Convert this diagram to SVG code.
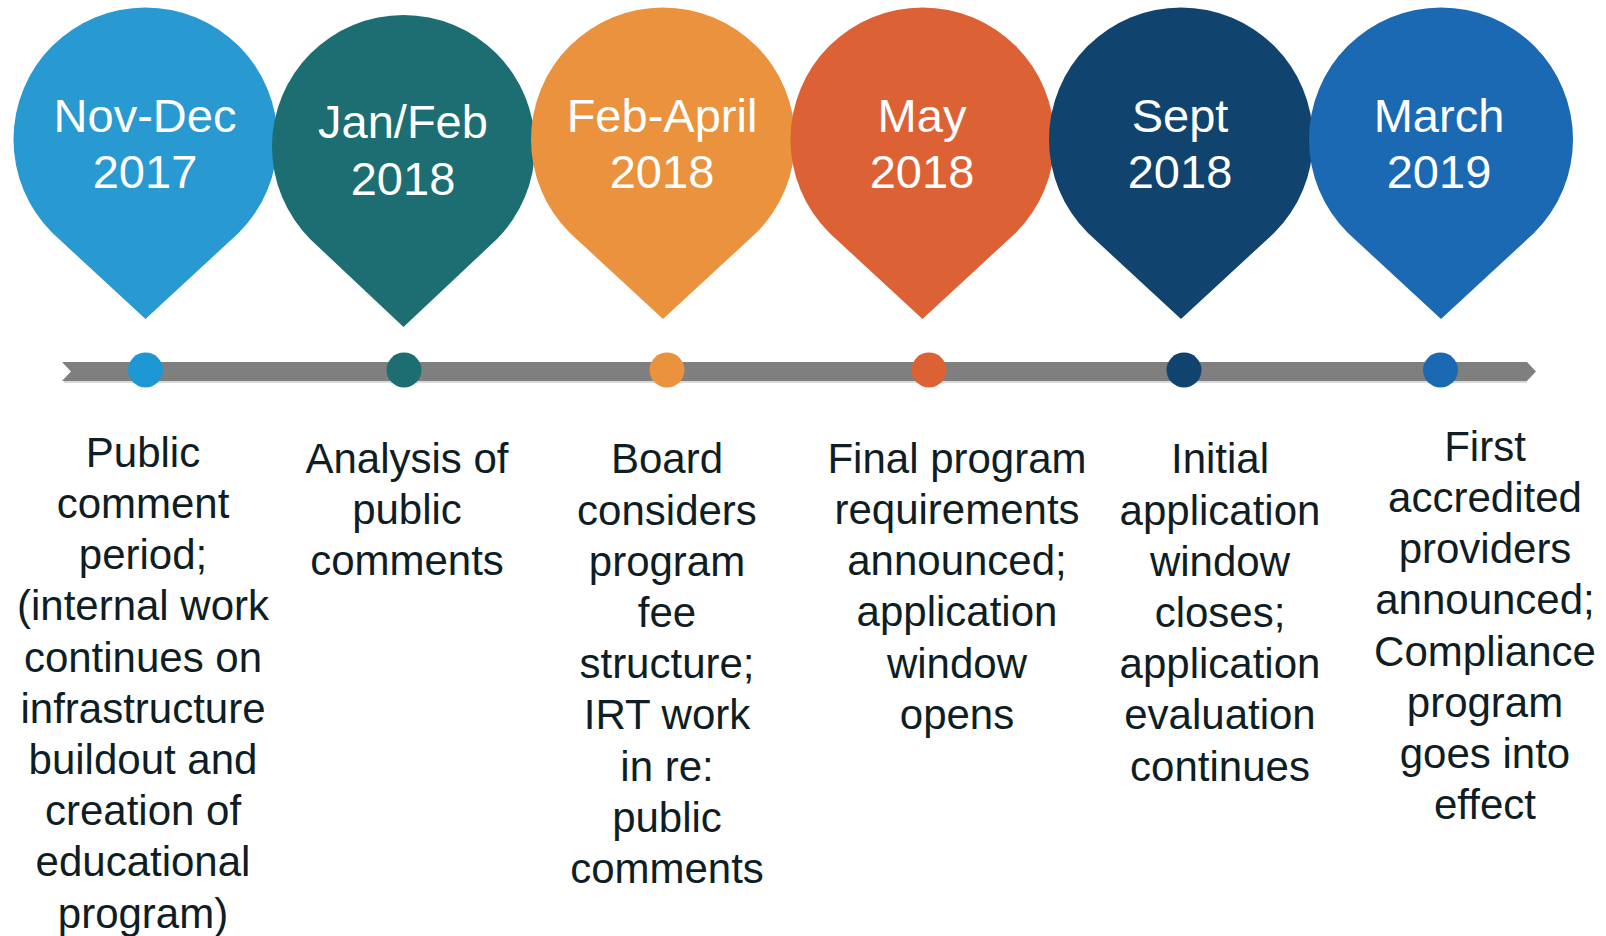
<svg xmlns="http://www.w3.org/2000/svg" width="1606" height="936" viewBox="0 0 1606 936">
<style>
.pt{font-family:"Liberation Sans",Arial,sans-serif;font-size:47px;fill:#ffffff;text-anchor:middle}
.dt{font-family:"Liberation Sans",Arial,sans-serif;font-size:42px;fill:#0f1d24;text-anchor:middle}
</style>
<rect width="1606" height="936" fill="#ffffff"/>
<g id="connectors">
<rect x="64" y="381" width="1463" height="2" fill="#d9d9d9"/>
<polygon points="62,362 1527,362 1536,371.5 1527,381 62,381 71,371.5" fill="#7f7f7f"/>
</g>
<g id="m1">
<path d="M145.5,319 L52.2,232.8 A132,132 0 1 1 238.8,232.8 Z" fill="#2999d1"/>
<text class="pt" x="145" y="131.7">Nov-Dec</text>
<text class="pt" x="145" y="187.5">2017</text>
<circle cx="145.5" cy="370" r="17.5" fill="#1e98d4"/>
<text class="dt" x="143" y="466.7"><tspan x="143">Public</tspan><tspan x="143" dy="51.2">comment</tspan><tspan x="143" dy="51.2">period;</tspan><tspan x="143" dy="51.2">(internal work</tspan><tspan x="143" dy="51.2">continues on</tspan><tspan x="143" dy="51.2">infrastructure</tspan><tspan x="143" dy="51.2">buildout and</tspan><tspan x="143" dy="51.2">creation of</tspan><tspan x="143" dy="51.2">educational</tspan><tspan x="143" dy="51.2">program)</tspan></text>
</g>
<g id="m2">
<path d="M403.5,327 L310.5,239.5 A131.5,131.5 0 1 1 496.5,239.5 Z" fill="#1d6e72"/>
<text class="pt" x="403" y="138.3">Jan/Feb</text>
<text class="pt" x="403" y="195">2018</text>
<circle cx="404" cy="370" r="17.5" fill="#1d6e72"/>
<text class="dt" x="407" y="472.7"><tspan x="407">Analysis of</tspan><tspan x="407" dy="51.2">public</tspan><tspan x="407" dy="51.2">comments</tspan></text>
</g>
<g id="m3">
<path d="M663,319 L569.7,232.8 A132,132 0 1 1 756.3,232.8 Z" fill="#ea923d"/>
<text class="pt" x="662" y="132">Feb-April</text>
<text class="pt" x="662" y="188">2018</text>
<circle cx="667" cy="370" r="17.5" fill="#ea923d"/>
<text class="dt" x="667" y="473.3"><tspan x="667">Board</tspan><tspan x="667" dy="51.2">considers</tspan><tspan x="667" dy="51.2">program</tspan><tspan x="667" dy="51.2">fee</tspan><tspan x="667" dy="51.2">structure;</tspan><tspan x="667" dy="51.2">IRT work</tspan><tspan x="667" dy="51.2">in re:</tspan><tspan x="667" dy="51.2">public</tspan><tspan x="667" dy="51.2">comments</tspan></text>
</g>
<g id="m4">
<path d="M922.5,319 L829.2,232.8 A132,132 0 1 1 1015.8,232.8 Z" fill="#dc6236"/>
<text class="pt" x="922" y="132">May</text>
<text class="pt" x="922" y="188">2018</text>
<circle cx="929" cy="370" r="17.5" fill="#dc6236"/>
<text class="dt" x="957" y="472.7"><tspan x="957">Final program</tspan><tspan x="957" dy="51.2">requirements</tspan><tspan x="957" dy="51.2">announced;</tspan><tspan x="957" dy="51.2">application</tspan><tspan x="957" dy="51.2">window</tspan><tspan x="957" dy="51.2">opens</tspan></text>
</g>
<g id="m5">
<path d="M1181,319 L1087.7,232.8 A132,132 0 1 1 1274.3,232.8 Z" fill="#10436e"/>
<text class="pt" x="1180" y="131.7">Sept</text>
<text class="pt" x="1180" y="188">2018</text>
<circle cx="1184" cy="370" r="17.5" fill="#10436e"/>
<text class="dt" x="1220" y="473.3"><tspan x="1220">Initial</tspan><tspan x="1220" dy="51.2">application</tspan><tspan x="1220" dy="51.2">window</tspan><tspan x="1220" dy="51.2">closes;</tspan><tspan x="1220" dy="51.2">application</tspan><tspan x="1220" dy="51.2">evaluation</tspan><tspan x="1220" dy="51.2">continues</tspan></text>
</g>
<g id="m6">
<path d="M1441,319 L1347.7,232.8 A132,132 0 1 1 1534.3,232.8 Z" fill="#1b69b2"/>
<text class="pt" x="1439" y="132">March</text>
<text class="pt" x="1439" y="188">2019</text>
<circle cx="1440.5" cy="370" r="17.5" fill="#1b69b2"/>
<text class="dt" x="1485" y="460.7"><tspan x="1485">First</tspan><tspan x="1485" dy="51.2">accredited</tspan><tspan x="1485" dy="51.2">providers</tspan><tspan x="1485" dy="51.2">announced;</tspan><tspan x="1485" dy="51.2">Compliance</tspan><tspan x="1485" dy="51.2">program</tspan><tspan x="1485" dy="51.2">goes into</tspan><tspan x="1485" dy="51.2">effect</tspan></text>
</g>
</svg>
